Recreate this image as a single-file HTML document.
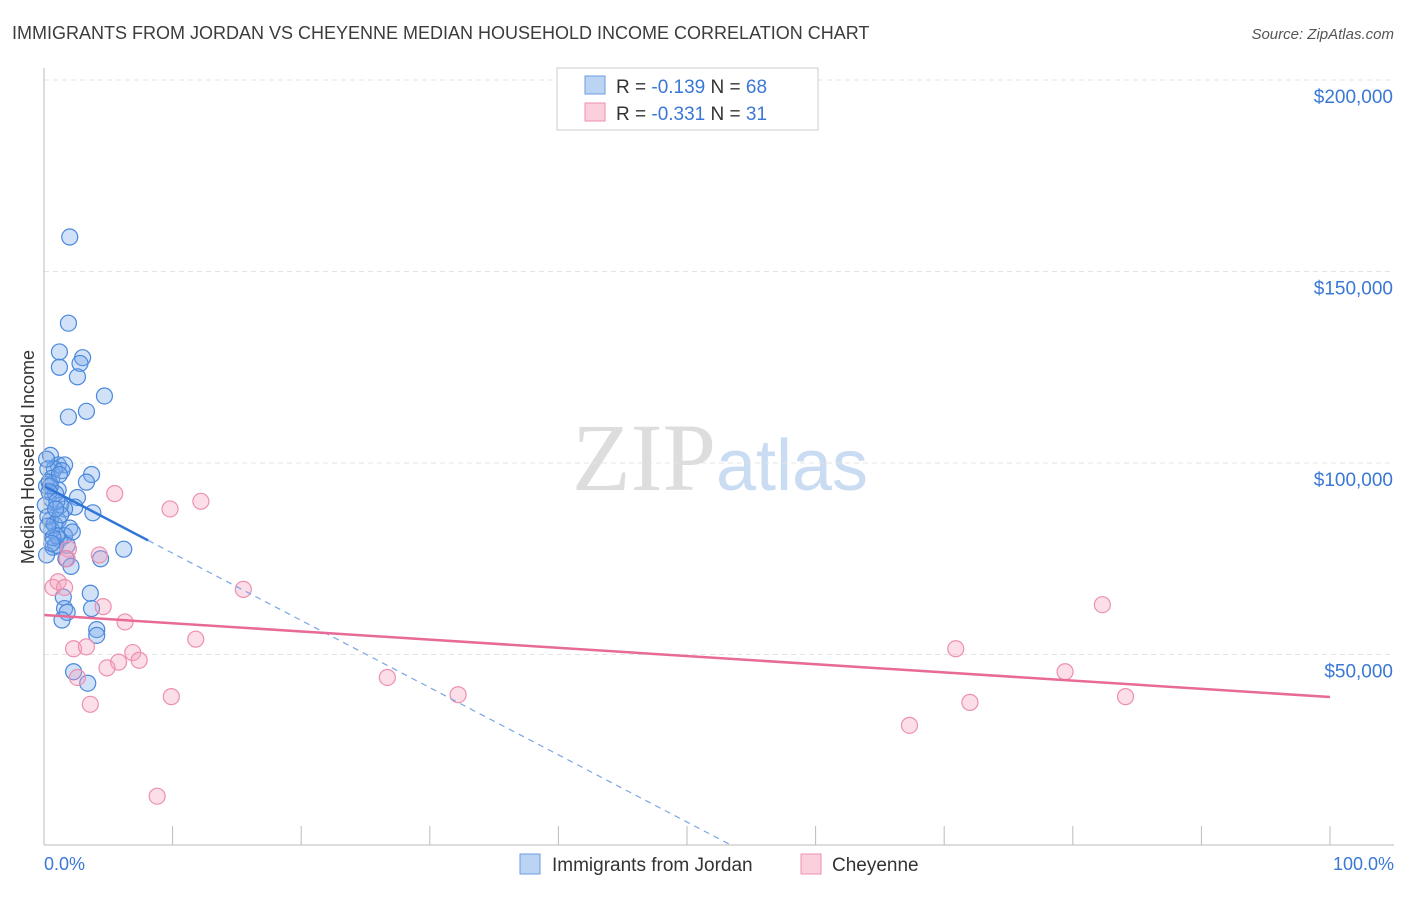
<!DOCTYPE html>
<html><head><meta charset="utf-8"><style>
body{margin:0;background:#fff;font-family:"Liberation Sans",sans-serif}
</style></head><body>
<svg id="chart" width="1406" height="892" xmlns="http://www.w3.org/2000/svg" font-family="Liberation Sans, sans-serif">
<text x="12" y="39" font-size="18" fill="#3c3c3c">IMMIGRANTS FROM JORDAN VS CHEYENNE MEDIAN HOUSEHOLD INCOME CORRELATION CHART</text>
<text x="1394" y="39" font-size="15" fill="#555" text-anchor="end" font-style="italic">Source: ZipAtlas.com</text>
<text x="720" y="490" font-size="96" text-anchor="middle" fill="#ddd" font-family="Liberation Serif, serif">ZIP<tspan fill="#c9dcf2" font-family="Liberation Sans, sans-serif" font-size="72">atlas</tspan></text>
<text transform="translate(34,457) rotate(-90)" font-size="18" fill="#333" text-anchor="middle">Median Household Income</text>
<g id="grid"></g><g id="pts"></g><g id="lines"></g>
<line x1="44" y1="845" x2="1394" y2="845" stroke="#bbb"/>
<line x1="44" y1="68" x2="44" y2="845" stroke="#bbb"/>
<text x="44" y="870" font-size="18" fill="#3a78d6">0.0%</text>
<text x="1394" y="870" font-size="18" fill="#3a78d6" text-anchor="end">100.0%</text>
<g>
<rect x="557" y="68" width="261" height="62" fill="#fff" stroke="#ccc"/>
<rect x="585" y="76" width="20" height="18" fill="#bcd4f4" stroke="#6a9be0"/>
<rect x="585" y="103" width="20" height="18" fill="#fbcfdc" stroke="#ee8fb0"/>
<text x="616" y="93" font-size="19" fill="#333">R = <tspan fill="#3a78d6">-0.139</tspan>   N = <tspan fill="#3a78d6">68</tspan></text>
<text x="616" y="120" font-size="19" fill="#333">R = <tspan fill="#3a78d6">-0.331</tspan>   N =  <tspan fill="#3a78d6">31</tspan></text>
</g>
<g>
<rect x="520" y="854" width="20" height="20" fill="#bcd4f4" stroke="#6a9be0"/>
<text x="552" y="871" font-size="19" fill="#333">Immigrants from Jordan</text>
<rect x="801" y="854" width="20" height="20" fill="#fbcfdc" stroke="#ee8fb0"/>
<text x="832" y="871" font-size="19" fill="#333">Cheyenne</text>
</g>
</svg>
<script>
const yTicks=[50000,100000,150000,200000];
const yTickLabels=["$50,000","$100,000","$150,000","$200,000"];
const xTicks=[0,10,20,30,40,50,60,70,80,90,100];
const jordanX=[2.0,1.9,1.2,3.0,2.8,1.2,2.6,4.7,3.3,1.9,0.5,1.1,1.6,0.8,3.7,3.3,0.2,1.1,2.6,0.6,1.3,2.4,3.8,1.6,0.5,1.1,2.0,0.6,1.6,2.2,1.2,1.8,6.2,0.7,4.4,1.7,2.1,3.6,1.5,1.6,3.7,1.8,1.4,4.1,4.1,2.3,3.4,0.3,0.6,0.9,0.1,0.3,0.9,0.2,1.4,0.4,0.8,1.0,0.2,0.5,1.3,0.7,0.4,1.0,0.3,0.6,1.2,0.9];
const jordanY=[159000,136500,129000,127500,126000,125000,122500,117500,113500,112000,102000,99500,99500,98500,97000,95000,94000,93000,91000,90500,89000,88500,87000,88000,85000,85000,83000,82500,81000,82000,80000,78500,77500,78000,75000,75000,73000,66000,65000,62000,62000,61000,59000,56500,55000,45500,42500,98500,96000,92000,89000,86000,78500,76000,98000,95000,84000,81000,101000,94000,86500,80500,92500,90000,83500,79000,97000,88000];
const cheyX=[0.7,1.1,1.6,1.9,1.8,4.3,5.5,9.8,12.2,15.5,4.6,6.3,11.8,6.9,7.4,5.8,4.9,2.3,3.3,2.6,3.6,9.9,8.8,26.7,32.2,67.3,70.9,72.0,79.4,82.3,84.1];
const cheyY=[67500,69000,67500,77500,75000,76000,92000,88000,90000,67000,62500,58500,54000,50500,48500,48000,46500,51500,52000,44000,37000,39000,13000,44000,39500,31500,51500,37500,45500,63000,39000];
const jordanFit=[94000,-1755];  // intercept, slope per %
const cheyFit=[60300,-214];
const NS="http://www.w3.org/2000/svg";
const X=p=>44+p/100*1286, Y=v=>846-v/50000*191.5;
function mk(t,a,parent){const e=document.createElementNS(NS,t);for(const k in a)e.setAttribute(k,a[k]);document.getElementById(parent).appendChild(e);return e;}
yTicks.forEach((v,i)=>{
 const l=mk('line',{x1:44,x2:1394,y1:Y(v),y2:Y(v),stroke:'#e4e4e4','stroke-dasharray':'5,4'},'grid');
 
 
 const t=mk('text',{x:1393,y:Y(v)+23,'font-size':19,fill:'#3a78d6','text-anchor':'end'},'grid');
 t.textContent=yTickLabels[i];
 
 
});
xTicks.forEach(p=>{
 const l=mk('line',{x1:X(p),x2:X(p),y1:826,y2:845,stroke:'#bbb'},'grid');
 
 
});
jordanX.forEach((x,i)=>{
 const c=mk('circle',{cx:X(x),cy:Y(jordanY[i]),r:8,fill:'rgba(120,170,235,0.35)',stroke:'#4a88dc','stroke-width':1.2},'pts');
 
 
});
cheyX.forEach((x,i)=>{
 const c=mk('circle',{cx:X(x),cy:Y(cheyY[i]),r:8,fill:'rgba(245,160,190,0.35)',stroke:'#ec90b0','stroke-width':1.2},'pts');
 
 
});
const jf=p=>jordanFit[0]+jordanFit[1]*p;
const jz=-jordanFit[0]/jordanFit[1];
let l1=mk('line',{x1:X(0),y1:Y(jf(0)),x2:X(8.1),y2:Y(jf(8.1)),stroke:'#2f74d6','stroke-width':2.5},'lines');


let l2=mk('line',{x1:X(8.1),y1:Y(jf(8.1)),x2:X(jz),y2:Y(0),stroke:'#7aa6e4','stroke-width':1.2,'stroke-dasharray':'6,5'},'lines');


let l3=mk('line',{x1:X(0),y1:Y(cheyFit[0]),x2:X(100),y2:Y(cheyFit[0]+cheyFit[1]*100),stroke:'#e86a96','stroke-width':2.5},'lines');


</script>
</body></html>
